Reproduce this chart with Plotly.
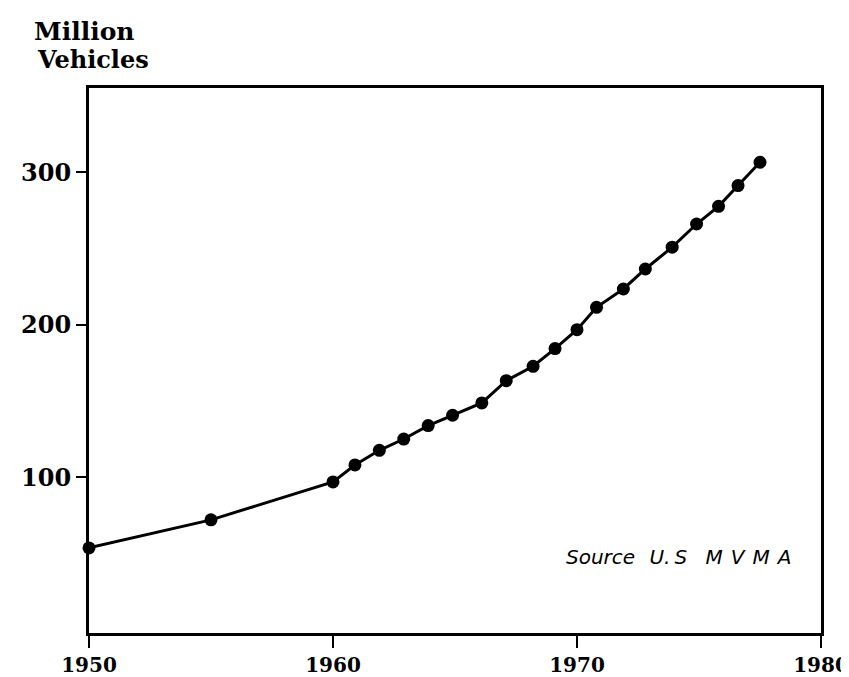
import plotly.graph_objects as go

# Data (year, million vehicles)
years = [1950, 1955, 1960, 1960.9, 1961.9, 1962.9, 1963.9, 1964.9, 1966.1, 1967.1,
         1968.2, 1969.1, 1970.0, 1970.8, 1971.9, 1972.8, 1973.9, 1974.9, 1975.8,
         1976.6, 1977.5]
vehicles = [53.6, 72, 96.9, 108, 117.6, 125, 133.8, 140.6, 148.7, 163.3,
            172.7, 184.3, 196.7, 211.4, 223.4, 236.5, 250.8, 266, 277.6,
            291.2, 306.5]
x_ticks = [1950, 1960, 1970, 1980]
y_ticks = [100, 200, 300]
title_lines = ["Million", "Vehicles"]
TS = "\u2009"
source_text = ("Source" + TS * 2 + " U." + TS + "S" + TS * 3 + " M" + TS * 2 + "V"
               + TS * 2 + "M" + TS * 2 + "A")

FONT = "DejaVu Serif"
W, H = 849, 677
L, R, T, B = 81, 36, 80, 52

fig = go.Figure()
fig.add_trace(go.Scatter(
    x=years, y=vehicles, mode="lines+markers",
    line=dict(color="black", width=3),
    marker=dict(color="black", size=13),
    cliponaxis=False, showlegend=False,
))

fig.update_layout(
    width=W, height=H,
    margin=dict(l=L, r=R, t=T, b=B, autoexpand=False),
    paper_bgcolor="white", plot_bgcolor="white",
    font=dict(family=FONT, color="black"),
    xaxis=dict(
        range=[1950, 1980], tickvals=x_ticks, ticktext=[str(v) for v in x_ticks],
        ticks="outside", ticklen=12, tickwidth=2, tickcolor="black",
        showline=True, linewidth=3, linecolor="black", mirror=True,
        showgrid=False, zeroline=False,
        tickfont=dict(family=FONT, size=20, color="black", weight="bold"),
    ),
    yaxis=dict(
        range=[-2.2, 355.2], tickvals=y_ticks, ticktext=[str(v) for v in y_ticks],
        ticks="outside", ticklen=10, tickwidth=2, tickcolor="black",
        showline=True, linewidth=3, linecolor="black", mirror=True,
        showgrid=False, zeroline=False,
        tickfont=dict(family=FONT, size=24, color="black", weight="bold"),
    ),
)

pw, ph = W - L - R, H - T - B
def px(xp):
    return (xp - L) / pw
def py(yp):
    return (H - B - yp) / ph

fig.add_annotation(text=title_lines[0], xref="paper", yref="paper",
                   x=px(24), y=py(40), showarrow=False, xanchor="left", yanchor="bottom",
                   font=dict(family=FONT, size=25, color="black", weight="bold"))
fig.add_annotation(text=title_lines[1], xref="paper", yref="paper",
                   x=px(27), y=py(68), showarrow=False, xanchor="left", yanchor="bottom",
                   font=dict(family=FONT, size=24, color="black", weight="bold"))
fig.add_annotation(text=source_text, xref="paper", yref="paper",
                   x=px(785), y=py(549), showarrow=False, xanchor="right", yanchor="middle",
                   font=dict(family="DejaVu Sans", size=20, color="black", style="italic"))

fig.write_html("out.html")
